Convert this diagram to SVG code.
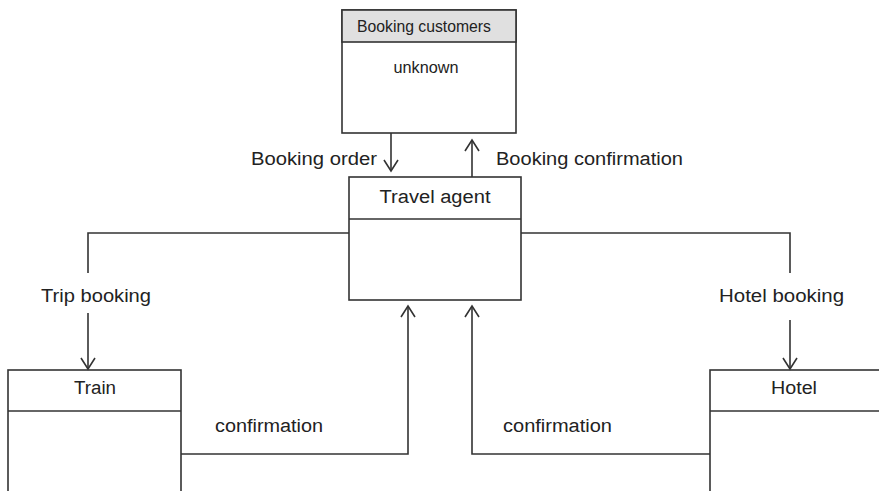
<svg xmlns="http://www.w3.org/2000/svg" width="879" height="491" viewBox="0 0 879 491">
<style>
.box{fill:#fff;stroke:#333;stroke-width:1.6}
.hdr{fill:#e0e0e0;stroke:#333;stroke-width:1.6}
.ln{fill:none;stroke:#333;stroke-width:1.6}
.t{font-family:"Liberation Sans",Arial,sans-serif;fill:#222;font-size:18px}
.s{font-family:"Liberation Sans",Arial,sans-serif;fill:#222;font-size:16px}
</style>
<defs>
<marker id="arr" viewBox="-12 -8 14 16" markerWidth="14" markerHeight="16" refX="0" refY="0" orient="auto" markerUnits="userSpaceOnUse">
<path d="M-11,-7 L0,0 L-11,7" fill="none" stroke="#333" stroke-width="1.6"/>
</marker>
</defs>
<rect width="879" height="491" fill="#fff"/>
<g id="customers">
<rect class="box" x="342" y="10" width="174" height="123"/>
<rect class="hdr" x="342" y="10" width="174" height="32"/>
<text class="s" x="424" y="32" text-anchor="middle" textLength="134" lengthAdjust="spacingAndGlyphs">Booking customers</text>
<text class="s" x="426" y="73" text-anchor="middle" textLength="65" lengthAdjust="spacingAndGlyphs">unknown</text>
</g>
<g id="agent">
<rect class="box" x="349" y="177" width="172" height="123"/>
<line class="ln" x1="349" y1="219" x2="521" y2="219"/>
<text class="t" x="435" y="203" text-anchor="middle" textLength="111" lengthAdjust="spacingAndGlyphs">Travel agent</text>
</g>
<g id="train">
<rect class="box" x="8" y="370" width="173" height="130"/>
<line class="ln" x1="8" y1="411" x2="181" y2="411"/>
<text class="t" x="95" y="394" text-anchor="middle" textLength="42" lengthAdjust="spacingAndGlyphs">Train</text>
</g>
<g id="hotel">
<rect class="box" x="710" y="370" width="180" height="130"/>
<line class="ln" x1="710" y1="411" x2="890" y2="411"/>
<text class="t" x="794" y="394" text-anchor="middle" textLength="46" lengthAdjust="spacingAndGlyphs">Hotel</text>
</g>
<g id="connectors">
<line class="ln" x1="391" y1="133" x2="391" y2="171" marker-end="url(#arr)"/>
<line class="ln" x1="472" y1="177" x2="472" y2="140" marker-end="url(#arr)"/>
<polyline class="ln" points="349,233 88,233 88,273"/>
<line class="ln" x1="88" y1="313" x2="88" y2="369" marker-end="url(#arr)"/>
<polyline class="ln" points="521,233 790,233 790,273"/>
<line class="ln" x1="790" y1="320" x2="790" y2="369" marker-end="url(#arr)"/>
<polyline class="ln" points="181,454 408,454 408,306" marker-end="url(#arr)"/>
<polyline class="ln" points="710,454 472,454 472,306" marker-end="url(#arr)"/>
<text class="t" x="251" y="165" textLength="126" lengthAdjust="spacingAndGlyphs">Booking order</text>
<text class="t" x="496" y="165" textLength="187" lengthAdjust="spacingAndGlyphs">Booking confirmation</text>
<text class="t" x="41" y="302" textLength="110" lengthAdjust="spacingAndGlyphs">Trip booking</text>
<text class="t" x="719" y="302" textLength="125" lengthAdjust="spacingAndGlyphs">Hotel booking</text>
<text class="t" x="215" y="432" textLength="108" lengthAdjust="spacingAndGlyphs">confirmation</text>
<text class="t" x="503" y="432" textLength="109" lengthAdjust="spacingAndGlyphs">confirmation</text>
</g>
</svg>
